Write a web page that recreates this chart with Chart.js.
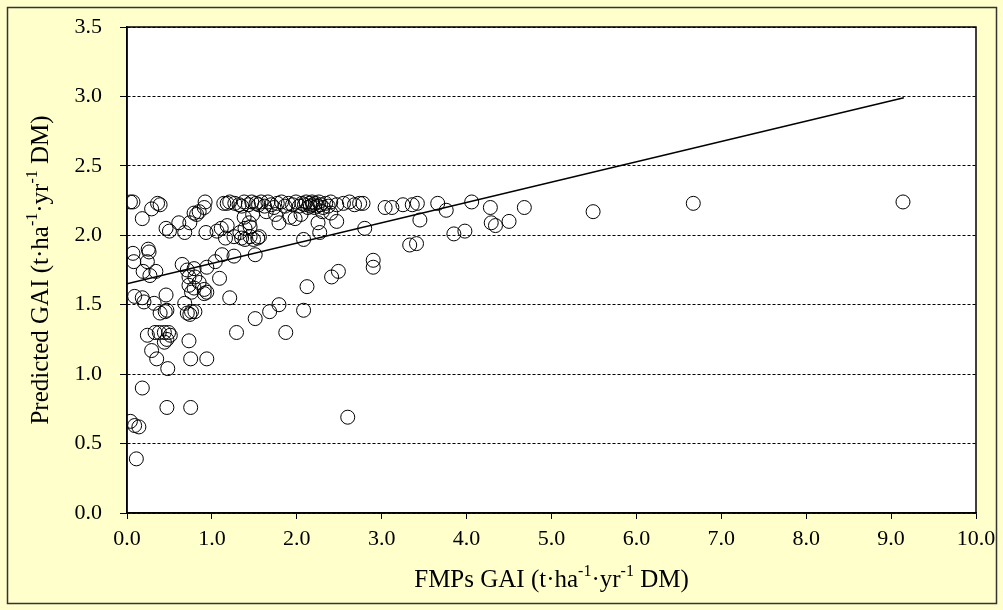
<!DOCTYPE html>
<html>
<head>
<meta charset="utf-8">
<script src="https://cdn.jsdelivr.net/npm/chart.js@4.4.1/dist/chart.umd.min.js"></script>
<style>
  html, body { margin: 0; padding: 0; background: #ffffff; }
  #wrap { width: 1003px; height: 610px; }
</style>
</head>
<body>
<div id="wrap"><canvas id="gaiChart" width="1003" height="610"></canvas></div>
<script>
// Observed (FMPs) GAI values, x axis
const fmpGai = [
  0.04, 0.07, 0.36, 0.39, 0.92, 0.91, 1.14, 1.18, 1.21,
  1.27, 1.32, 1.35, 1.38, 1.43, 1.47, 1.52, 1.55, 1.58, 1.62, 1.66, 1.70, 1.73, 1.77, 1.82, 1.86,
  1.90, 1.95, 1.99, 2.03, 2.06, 2.09, 2.11, 2.13, 2.15, 2.16, 2.18, 2.19, 2.21, 2.22, 2.24, 2.26,
  2.28, 2.31, 2.34, 2.37, 2.40, 2.47, 2.55, 2.62, 2.68, 2.74, 2.78, 1.64, 1.75, 2.05, 2.30, 1.48, 2.40,
  3.04, 3.12, 3.25, 3.36, 3.42, 3.45, 3.66, 3.76, 4.06, 4.28, 4.29, 4.34, 4.50, 4.68, 5.49, 6.67, 9.14,
  3.33, 3.41, 3.85, 3.98, 2.90, 2.90, 2.41, 2.49, 2.12, 2.60,
  0.18, 0.29, 0.46, 0.50, 0.61, 0.68, 0.74, 0.79, 0.82, 0.85, 0.93, 1.06, 1.11, 1.18, 1.16,
  1.38, 1.44, 1.45, 1.39, 1.26, 1.33, 1.35, 1.39, 1.45, 1.49, 1.54, 1.56, 1.79, 1.92, 1.98, 2.08,
  2.47, 2.25, 2.27, 2.80, 0.07, 0.08,
  0.25, 0.26, 0.24, 0.19, 0.27, 0.34, 0.65, 0.71, 0.79, 0.73, 0.80, 0.85, 0.73, 0.79, 0.91, 0.94,
  0.94, 1.04, 1.12, 1.26, 1.51, 1.09,
  0.09, 0.18, 0.20, 0.32, 0.39, 0.45, 0.47, 0.46, 0.68, 0.71, 0.76, 0.80, 0.74, 0.76, 0.91, 1.21,
  1.51, 1.68, 1.79, 2.08, 0.24, 0.33, 0.38, 0.44, 0.49, 0.51, 0.47, 0.44, 0.29, 0.35, 0.48, 0.73,
  0.75, 0.94, 1.29, 1.87, 0.18, 0.47, 0.75, 0.04, 0.09, 0.14, 0.11
];

// Predicted GAI values, y axis (same order as fmpGai)
const predictedGai = [
  2.24, 2.24, 2.23, 2.22, 2.24, 2.20, 2.23, 2.23, 2.24,
  2.23, 2.22, 2.21, 2.24, 2.22, 2.24, 2.23, 2.22, 2.24, 2.21, 2.24, 2.22, 2.20, 2.23, 2.24, 2.21,
  2.23, 2.22, 2.24, 2.21, 2.23, 2.22, 2.24, 2.20, 2.23, 2.21, 2.24, 2.22, 2.20, 2.23, 2.21, 2.24,
  2.22, 2.20, 2.23, 2.21, 2.24, 2.22, 2.23, 2.24, 2.22, 2.23, 2.23, 2.17, 2.15, 2.15, 2.17, 2.15, 2.16,
  2.20, 2.20, 2.22, 2.22, 2.23, 2.11, 2.23, 2.18, 2.24, 2.20, 2.09, 2.07, 2.10, 2.20, 2.17, 2.23, 2.24,
  1.93, 1.94, 2.01, 2.03, 1.82, 1.77, 1.70, 1.74, 1.63, 0.69,
  2.12, 2.19, 2.05, 2.03, 2.09, 2.02, 2.09, 2.16, 2.15, 2.17, 2.02, 2.03, 2.05, 2.07, 1.98,
  2.13, 2.09, 2.06, 2.05, 1.99, 2.02, 1.98, 1.97, 1.99, 1.97, 1.98, 1.99, 2.09, 2.13, 2.12, 1.97,
  2.10, 2.09, 2.02, 2.05, 1.87, 1.81,
  1.90, 1.88, 1.81, 1.74, 1.71, 1.74, 1.79, 1.75, 1.76, 1.70, 1.70, 1.66, 1.64, 1.62, 1.61, 1.59,
  1.77, 1.81, 1.86, 1.85, 1.86, 1.69,
  1.56, 1.55, 1.52, 1.51, 1.44, 1.45, 1.46, 1.57, 1.51, 1.44, 1.45, 1.45, 1.43, 1.59, 1.58, 1.55,
  1.40, 1.45, 1.50, 1.46, 1.28, 1.30, 1.30, 1.30, 1.30, 1.28, 1.25, 1.23, 1.17, 1.11, 1.04, 1.24,
  1.11, 1.11, 1.30, 1.30, 0.90, 0.76, 0.76, 0.66, 0.63, 0.62, 0.39
];

// Regression line end points
const fitLineX = [0.0, 9.15];
const fitLineY = [1.65, 2.99];

// Axis ranges
const xAxisMin = 0, xAxisMax = 10, xAxisStep = 1;
const yAxisMin = 0, yAxisMax = 3.5, yAxisStep = 0.5;

// Axis titles, split into normal / superscript pieces
const xTitleParts = [["FMPs GAI (t·ha", false], ["-1", true], ["·yr", false], ["-1", true], [" DM)", false]];
const yTitleParts = [["Predicted GAI (t·ha", false], ["-1", true], ["·yr", false], ["-1", true], [" DM)", false]];

const scatterPoints = fmpGai.map((x, i) => ({ x: x, y: predictedGai[i] }));
const fitPoints = fitLineX.map((x, i) => ({ x: x, y: fitLineY[i] }));

const serif = "'Liberation Serif', 'Times New Roman', serif";

// Draw a title with superscripts centred on (cx, cy)
function drawRichTitle(ctx, parts, cx, cy, angle) {
  const mainFont = "25px " + serif;
  const supFont = "16px " + serif;
  ctx.save();
  ctx.translate(cx, cy);
  ctx.rotate(angle);
  ctx.fillStyle = "#000000";
  ctx.textBaseline = "middle";
  ctx.textAlign = "left";
  let total = 0;
  parts.forEach(([t, sup]) => {
    ctx.font = sup ? supFont : mainFont;
    total += ctx.measureText(t).width;
  });
  let x = -total / 2;
  parts.forEach(([t, sup]) => {
    ctx.font = sup ? supFont : mainFont;
    ctx.fillText(t, x, sup ? -8 : 0);
    x += ctx.measureText(t).width;
  });
  ctx.restore();
}

// Yellow page, outer frame, white plot area, plot frame and titles
const chartFrame = {
  id: "chartFrame",
  beforeDraw(chart) {
    const { ctx, chartArea } = chart;
    ctx.save();
    ctx.fillStyle = "#ffffcc";
    ctx.fillRect(0, 0, chart.width, chart.height);
    ctx.strokeStyle = "#333333";
    ctx.lineWidth = 1.5;
    ctx.strokeRect(7.5, 7.5, chart.width - 14, chart.height - 14);
    ctx.fillStyle = "#ffffff";
    ctx.fillRect(chartArea.left, chartArea.top, chartArea.right - chartArea.left, chartArea.bottom - chartArea.top);
    ctx.restore();
  },
  afterDraw(chart) {
    const { ctx, chartArea } = chart;
    ctx.save();
    ctx.strokeStyle = "#000000";
    ctx.lineWidth = 1.5;
    ctx.strokeRect(chartArea.left, chartArea.top, chartArea.right - chartArea.left, chartArea.bottom - chartArea.top);
    ctx.restore();
    const midX = (chartArea.left + chartArea.right) / 2;
    const midY = (chartArea.top + chartArea.bottom) / 2;
    drawRichTitle(ctx, xTitleParts, midX, chartArea.bottom + 67, 0);
    drawRichTitle(ctx, yTitleParts, 41, midY, -Math.PI / 2);
  },
};

new Chart(document.getElementById("gaiChart").getContext("2d"), {
  type: "scatter",
  data: {
    datasets: [
      {
        label: "GAI",
        data: scatterPoints,
        pointStyle: "circle",
        pointRadius: 7,
        pointBorderColor: "#000000",
        pointBackgroundColor: "rgba(0, 0, 0, 0)",
        pointBorderWidth: 1,
      },
      {
        type: "line",
        label: "Fit",
        data: fitPoints,
        borderColor: "#000000",
        borderWidth: 1.5,
        pointRadius: 0,
        fill: false,
      },
    ],
  },
  options: {
    responsive: false,
    animation: false,
    layout: { padding: { left: 7, top: 27, right: 27, bottom: 7 } },
    plugins: {
      legend: { display: false },
      tooltip: { enabled: false },
    },
    scales: {
      x: {
        type: "linear",
        min: xAxisMin,
        max: xAxisMax,
        afterFit: (scale) => {
          scale.height = 90;
          scale.paddingLeft = 0;
          scale.paddingRight = 0;
        },
        ticks: {
          stepSize: xAxisStep,
          color: "#000000",
          font: { family: serif, size: 22 },
          padding: 7,
          maxRotation: 0,
          callback: (v) => v.toFixed(1),
        },
        grid: {
          drawOnChartArea: false,
          drawTicks: true,
          tickLength: 6,
          tickColor: "#000000",
          tickWidth: 1,
        },
        border: { color: "#000000", width: 1.5 },
        title: { display: false },
      },
      y: {
        type: "linear",
        min: yAxisMin,
        max: yAxisMax,
        afterFit: (scale) => {
          scale.width = 120;
          scale.paddingTop = 0;
          scale.paddingBottom = 0;
        },
        ticks: {
          stepSize: yAxisStep,
          color: "#000000",
          font: { family: serif, size: 22 },
          padding: 18,
          callback: (v) => v.toFixed(1),
        },
        grid: {
          color: "#000000",
          lineWidth: 1,
          drawTicks: true,
          tickLength: 7,
          tickColor: "#000000",
          tickBorderDash: [],
        },
        border: { color: "#000000", width: 1.5, dash: [3, 2] },
        title: { display: false },
      },
    },
  },
  plugins: [chartFrame],
});
</script>
</body>
</html>
